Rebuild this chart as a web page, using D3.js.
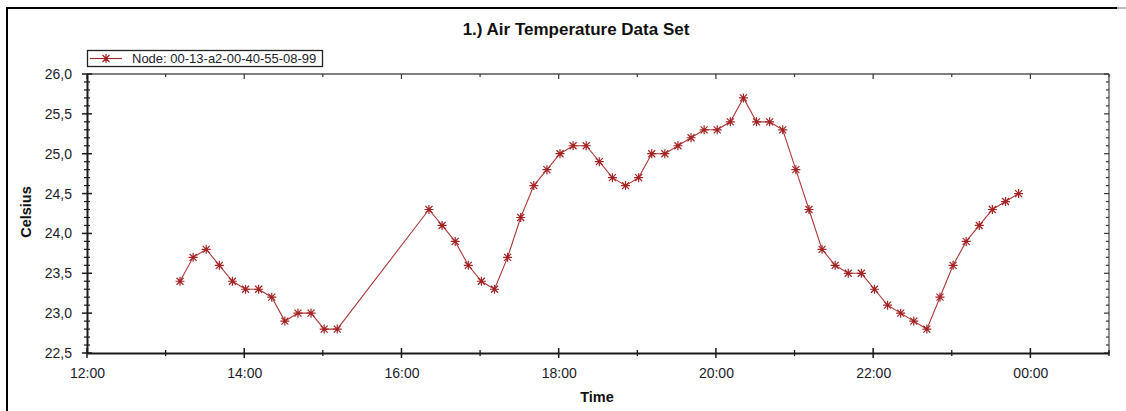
<!DOCTYPE html>
<html><head><meta charset="utf-8">
<script src="https://cdn.jsdelivr.net/npm/d3@7"></script>
<style>
html,body{margin:0;padding:0;background:#fff;}
svg{display:block;}
text{font-family:"Liberation Sans",Arial,sans-serif;}
</style></head>
<body>
<svg id="c" width="1126" height="411"></svg>
<script>
// ---- data ----
const title = "1.) Air Temperature Data Set";
const seriesName = "Node: 00-13-a2-00-40-55-08-99";
const xLabel = "Time";
const yLabel = "Celsius";
// segment 1 (13:11 - 15:11) and segment 2 (16:21 - 23:51), 10-minute readings
const times = [
 "13:11","13:21","13:31","13:41","13:51","14:01","14:11","14:21","14:31","14:41","14:51","15:01","15:11",
 "16:21","16:31","16:41","16:51","17:01","17:11","17:21","17:31","17:41","17:51",
 "18:01","18:11","18:21","18:31","18:41","18:51","19:01","19:11","19:21","19:31","19:41","19:51",
 "20:01","20:11","20:21","20:31","20:41","20:51","21:01","21:11","21:21","21:31","21:41","21:51",
 "22:01","22:11","22:21","22:31","22:41","22:51","23:01","23:11","23:21","23:31","23:41","23:51"
];
const celsius = [
 23.4,23.7,23.8,23.6,23.4,23.3,23.3,23.2,22.9,23.0,23.0,22.8,22.8,
 24.3,24.1,23.9,23.6,23.4,23.3,23.7,24.2,24.6,24.8,
 25.0,25.1,25.1,24.9,24.7,24.6,24.7,25.0,25.0,25.1,25.2,25.3,
 25.3,25.4,25.7,25.4,25.4,25.3,24.8,24.3,23.8,23.6,23.5,23.5,
 23.3,23.1,23.0,22.9,22.8,23.2,23.6,23.9,24.1,24.3,24.4,24.5
];
const xDomain = ["12:00","01:00"];
const yDomain = [22.5, 26.0];
const yTickValues = [22.5,23.0,23.5,24.0,24.5,25.0,25.5,26.0];

// ---- helpers ----
function toDate(s){
  const [h,m] = s.split(":").map(Number);
  return new Date(2020,0, h < 12 ? 2 : 1, h, m);
}
const data = times.map((t,i)=>({t:toDate(t), v:celsius[i]}));

const svg = d3.select("#c");
const m = {l:87, r:1109, t:74, b:353};
const x = d3.scaleTime().domain(xDomain.map(toDate)).range([m.l, m.r]);
const y = d3.scaleLinear().domain(yDomain).range([m.b, m.t]);

const axisColor = "#1a1a1a";
const red = "#a32222";

// outer frame (top and left edges only visible)
svg.append("line").attr("x1",7).attr("x2",1117).attr("y1",8).attr("y2",8).attr("stroke","#000").attr("stroke-width",2);
svg.append("line").attr("x1",1117).attr("x2",1126).attr("y1",8).attr("y2",8).attr("stroke","#bbb").attr("stroke-width",2);
svg.append("line").attr("x1",7).attr("x2",7).attr("y1",7).attr("y2",411).attr("stroke","#000").attr("stroke-width",2);

// title
svg.append("text").attr("x",576).attr("y",35).attr("text-anchor","middle")
  .attr("font-size",17).attr("font-weight","bold").attr("fill","#111").text(title);

// plot frame
const g = svg.append("g");
g.append("line").attr("x1",m.l).attr("x2",m.r).attr("y1",m.t).attr("y2",m.t).attr("stroke","#555").attr("stroke-width",1.3);
g.append("line").attr("x1",m.r).attr("x2",m.r).attr("y1",m.t).attr("y2",m.b).attr("stroke","#555").attr("stroke-width",1.3);

// ticks
const majorX = d3.timeHour.every(2).range(x.domain()[0], d3.timeMinute.offset(x.domain()[1],1));
const minorX = d3.timeHour.every(1).range(x.domain()[0], d3.timeMinute.offset(x.domain()[1],1))
  .filter(d=>d.getHours()%2===1);
const minorY = d3.range(225, 261, 1).map(v=>v/10).filter(v=>Math.round(v*10)%5!==0);

// bottom ticks
g.selectAll(".bmaj").data(majorX).join("line")
  .attr("x1",d=>x(d)).attr("x2",d=>x(d)).attr("y1",m.b-5).attr("y2",m.b+5)
  .attr("stroke",axisColor).attr("stroke-width",1.5);
g.selectAll(".bmin").data(minorX).join("line")
  .attr("x1",d=>x(d)).attr("x2",d=>x(d)).attr("y1",m.b-3).attr("y2",m.b+3)
  .attr("stroke",axisColor).attr("stroke-width",1.3);
// top ticks (inward)
g.selectAll(".tmaj").data(majorX).join("line")
  .attr("x1",d=>x(d)).attr("x2",d=>x(d)).attr("y1",m.t).attr("y2",m.t+5)
  .attr("stroke","#333").attr("stroke-width",1.2);
g.selectAll(".tmin").data(minorX).join("line")
  .attr("x1",d=>x(d)).attr("x2",d=>x(d)).attr("y1",m.t).attr("y2",m.t+3)
  .attr("stroke","#333").attr("stroke-width",1.2);
// left ticks
g.selectAll(".lmaj").data(yTickValues).join("line")
  .attr("x1",m.l-5).attr("x2",m.l+5).attr("y1",d=>y(d)).attr("y2",d=>y(d))
  .attr("stroke",axisColor).attr("stroke-width",1.5);
g.selectAll(".lmin").data(minorY).join("line")
  .attr("x1",m.l-3).attr("x2",m.l+3).attr("y1",d=>y(d)).attr("y2",d=>y(d))
  .attr("stroke",axisColor).attr("stroke-width",1.2);
// right ticks (inward)
g.selectAll(".rmaj").data(yTickValues).join("line")
  .attr("x1",m.r-5).attr("x2",m.r).attr("y1",d=>y(d)).attr("y2",d=>y(d))
  .attr("stroke","#333").attr("stroke-width",1.2);
g.selectAll(".rmin").data(minorY).join("line")
  .attr("x1",m.r-3).attr("x2",m.r).attr("y1",d=>y(d)).attr("y2",d=>y(d))
  .attr("stroke","#333").attr("stroke-width",1.2);

// axes with labels
const loc = d3.formatLocale({decimal:",", thousands:".", grouping:[3], currency:["",""]});
const xAxis = d3.axisBottom(x).tickValues(majorX).tickFormat(d3.timeFormat("%H:%M")).tickSize(0).tickPadding(15);
const yAxis = d3.axisLeft(y).tickValues(yTickValues).tickFormat(loc.format(".1f")).tickSize(0).tickPadding(15);
const gx = svg.append("g").attr("transform",`translate(0,${m.b})`).call(xAxis);
const gy = svg.append("g").attr("transform",`translate(${m.l},0)`).call(yAxis);
[gx,gy].forEach(a=>{
  a.select(".domain").attr("stroke",axisColor).attr("stroke-width",2);
  a.selectAll("text").attr("font-family","'Liberation Sans',Arial,sans-serif").attr("font-size",14).attr("fill","#1b1b2a");
});

// axis titles
svg.append("text").attr("x",597).attr("y",402).attr("text-anchor","middle")
  .attr("font-size",14.5).attr("font-weight","bold").attr("fill","#111").text(xLabel);
svg.append("text").attr("transform","translate(31,212) rotate(-90)").attr("text-anchor","middle")
  .attr("font-size",14.5).attr("font-weight","bold").attr("fill","#111").text(yLabel);

// series line
const line = d3.line().x(d=>x(d.t)).y(d=>y(d.v));
svg.append("path").datum(data).attr("d",line).attr("fill","none")
  .attr("stroke",red).attr("stroke-width",1.1).attr("opacity",0.9);

// asterisk markers
const r = 4.5, rd = 3.5;
const star = `M${-r},0L${r},0M0,${-r}L0,${r}M${-rd},${-rd}L${rd},${rd}M${-rd},${rd}L${rd},${-rd}`;
svg.append("g").selectAll("path").data(data).join("path")
  .attr("transform",d=>`translate(${x(d.t)},${y(d.v)})`)
  .attr("d",star).attr("fill","none").attr("stroke",red).attr("stroke-width",1.2);

// legend
const lg = svg.append("g");
lg.append("rect").attr("x",87.5).attr("y",50.5).attr("width",235).attr("height",16)
  .attr("fill","#fff").attr("stroke","#222").attr("stroke-width",1.3);
lg.append("line").attr("x1",90).attr("x2",122).attr("y1",58.5).attr("y2",58.5).attr("stroke",red).attr("stroke-width",1.1);
lg.append("path").attr("transform","translate(106,58.5)").attr("d",star).attr("fill","none").attr("stroke",red).attr("stroke-width",1.2);
lg.append("text").attr("x",132).attr("y",63).attr("font-size",13).attr("fill","#1b1b2a").text(seriesName);
</script>
</body></html>
